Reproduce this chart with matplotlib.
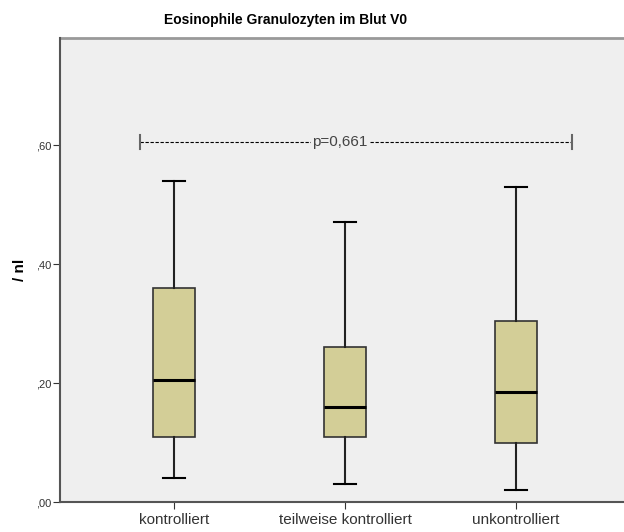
import matplotlib.pyplot as plt

plt.rcParams['font.family'] = ['Liberation Sans', 'DejaVu Sans']

# Eosinophile Granulozyten (/nl) bei Visite V0, je Kontrollgruppe
groups = ["kontrolliert", "teilweise kontrolliert", "unkontrolliert"]
whisker_low = [0.04, 0.03, 0.02]
q1 = [0.11, 0.11, 0.10]
median = [0.205, 0.16, 0.185]
q3 = [0.36, 0.26, 0.305]
whisker_high = [0.54, 0.47, 0.53]
p_value = "p=0,661"

stats = []
for i, name in enumerate(groups):
    stats.append(dict(label=name, whislo=whisker_low[i], q1=q1[i], med=median[i],
                      q3=q3[i], whishi=whisker_high[i], fliers=[]))

fig = plt.figure(figsize=(6.24, 5.32), dpi=100)
# the frame is cut off on the right, as in the SPSS export
ax = fig.add_axes([60 / 624, 1 - 502 / 532, 570 / 624, 464 / 532])
ax.set_facecolor("#efefef")

ax.bxp(stats, positions=range(len(groups)), widths=0.245, patch_artist=True,
       showfliers=False,
       boxprops=dict(facecolor="#d3ce97", edgecolor="#333333", linewidth=1.2),
       medianprops=dict(color="black", linewidth=2.2),
       whiskerprops=dict(color="#222222", linewidth=1.5),
       capprops=dict(color="black", linewidth=1.5), capwidths=0.125)

ax.set_xlim(-0.667, 2.667)
ax.set_ylim(0, 0.78)
ax.set_yticks([0, 0.2, 0.4, 0.6])
ax.set_yticklabels([",00", ",20", ",40", ",60"], fontsize=8, color="#333333")
ax.set_xticks(range(len(groups)))
ax.set_xticklabels(groups, fontsize=11, color="#333333")
ax.tick_params(axis="both", direction="out", length=5, color="#333333")
ax.tick_params(axis="x", pad=3)
ax.tick_params(axis="y", pad=1)

for side in ["top", "right"]:
    ax.spines[side].set_visible(False)
for side in ["left", "bottom"]:
    ax.spines[side].set_color("#555555")
    ax.spines[side].set_linewidth(1.5)
# thin frame line on top
ax.axhline(0.78, color="#999999", linewidth=2, clip_on=False)

# significance bracket across all groups
y_p = 0.605
ax.plot([-0.2, 2.33], [y_p, y_p], color="black", linestyle=(0, (3, 1.5)), linewidth=0.8)
for xe in [-0.2, 2.33]:
    ax.plot([xe, xe], [y_p - 0.012, y_p + 0.012], color="#666666", linewidth=1.5)
ax.text(0.97, y_p, p_value, ha="center", va="center", fontsize=11, color="#444444",
        bbox=dict(facecolor="#efefef", edgecolor="none", pad=1))

ax.set_ylabel("/ nl", fontsize=11, fontweight="bold")
ax.yaxis.set_label_coords(-33 / 570, 0.5)
fig.text(286 / 624, 1 - 20 / 532, "Eosinophile Granulozyten im Blut V0", ha="center", va="center",
         fontsize=10, fontweight="bold")

fig.savefig("out.png", dpi=100)
